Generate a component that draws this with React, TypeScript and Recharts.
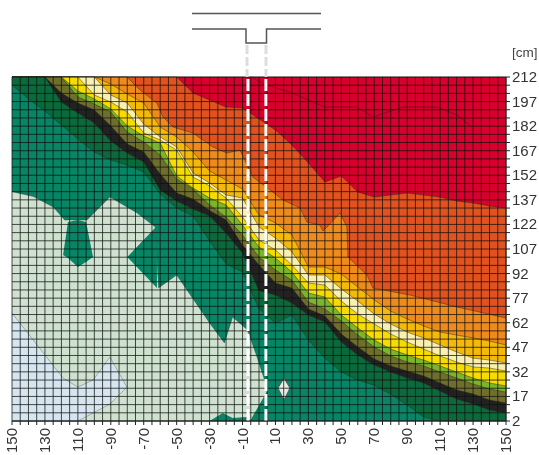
import React from 'react';
import { ComposedChart, Area, Line, XAxis, YAxis, ReferenceLine } from 'recharts';

// contour levels in cm, one value per position in positions
const positions = [-150, -140, -130, -120, -110, -100, -90, -80, -70, -60, -50, -40, -30, -20, -10, 0, 10, 20, 30, 40, 50, 60, 70, 80, 90, 100, 110, 120, 130, 140, 150];
const topRed = positions.map(() => 212);
const orangeRedTop = [212, 212, 212, 212, 212, 212, 212, 212, 212, 212, 212, 202.2, 198, 193.7, 193.1, 186.4, 179.6, 170.5, 159.5, 147.9, 151.6, 141.8, 138.7, 140, 141.2, 140, 138.7, 136.3, 135.1, 133.2, 132];
const goldTop = [212, 212, 212, 212, 212, 212, 207.7, 201.6, 196.1, 181.5, 175.4, 166.2, 154.6, 149.1, 143.6, 127.7, 122.9, 115.5, 96, 96, 91.7, 83.8, 75.9, 69.1, 64.3, 60, 56.3, 54.5, 52.7, 50.8, 48.4];
const paleTop = [212, 212, 212, 212, 212, 212, 201, 196.1, 183.3, 175.4, 169.3, 153.4, 147.3, 140, 138.1, 120.4, 113.7, 105.2, 91.1, 91.1, 82.6, 75.2, 67.3, 61.2, 56.3, 52.7, 48.4, 44.1, 40.4, 39.2, 37.4];
const yellowTop = [212, 212, 212, 212, 212, 201, 196.7, 190.6, 177.8, 173.5, 167.4, 150.9, 145.5, 138.1, 126.5, 112.5, 106.4, 97.2, 86.2, 85, 75.2, 67.3, 61.2, 55.1, 50.2, 45.9, 41.7, 38, 35, 34.3, 32.5];
const greenTop = [212, 212, 212, 212, 203.5, 198.6, 192.5, 182.1, 176, 171.7, 151.6, 144.2, 138.1, 133.9, 121.6, 108.2, 101.5, 92.9, 80.1, 77.7, 66.7, 58.8, 51.4, 45.9, 42.3, 39.2, 35.6, 31.9, 28.2, 25.2, 23.4];
const oliveTop = [212, 212, 212, 212, 199.8, 195.5, 190.6, 178.4, 172.3, 164.4, 149.7, 143.6, 133.9, 126.5, 115.5, 102.1, 94.2, 88, 74.6, 70.4, 63, 54.5, 47.2, 41.7, 38, 35.6, 31.9, 28.2, 24.6, 21.5, 19.7];
const blackTop = [212, 212, 212, 202.2, 196.1, 191.9, 182.1, 171.1, 166.2, 152.8, 141.2, 137.5, 130.5, 124.7, 109.4, 97.2, 86.2, 83.2, 70.4, 66.1, 55.1, 47.2, 39.8, 35.6, 32.5, 29.5, 25.2, 20.9, 18.5, 14.8, 13];
const darkGreenTop = [212, 212, 212, 196.7, 190, 183.9, 172.9, 165.6, 160.1, 143, 136.3, 131.4, 127.1, 116.8, 104.6, 81.5, 78.9, 74, 66.7, 62.4, 50.2, 42.3, 36.2, 31.9, 28.2, 25.2, 20.3, 15.4, 12.4, 8.7, 6.9];
const tealTop = [207.1, 198.6, 191.2, 182.7, 174.1, 166.2, 161.3, 158.2, 154, 140.6, 132, 127.1, 111.9, 97.8, 93, 70.4, 61.8, 66.7, 51.4, 40.4, 31.9, 27, 23.9, 18.4, 11.7, 4.4, 2, 2, 2, 2, 2];

// the orange edge has a near vertical step, so it keeps its own positions
const orangeX = [-150, -80.2, -72.3, -62, -58.3, -52.2, -40.1, -28, -19.5, -11.6, -3.7, 6.7, 14.6, 24.9, 29.1, 37, 38.8, 41.3, 49.2, 53.4, 54, 65.6, 69.2, 91.7, 120.2, 150];
const orangeTop = [212, 212, 204.1, 196.1, 187.6, 181.5, 177.8, 169.3, 165.6, 167.4, 150.9, 143, 136.9, 132, 123.5, 121.6, 118, 120.4, 129, 120.4, 102.1, 91.1, 83.2, 78.9, 71.6, 64.9];

// the separate regions in the lower left have their own positions
const paleGreenX = [-150, -137, -125, -118, -104.5, -90.5, -74, -63, -61, -50, -30, -21, -16, -7, -1, 5, 5.5];
const paleGreenTop = [142, 139, 132.6, 124.7, 124.7, 138.7, 129, 120.4, 83.2, 91.1, 61.8, 49.6, 65.5, 57.6, 40.4, 22, 2];

const paleBlueX = [-150, -130, -119, -110, -100.8, -90.5, -80.2];
const paleBlueLow = [2, 2, 2, 2, 6.9, 12.4, 22.7];
const paleBlueHigh = [67.9, 42.3, 28.2, 22.7, 27, 41, 22.7];

const notchX = [-119, -116, -110, -105, -100.8];
const notchLow = [103.3, 101.5, 96, 99, 102.1];
const notchHigh = [103.3, 123.5, 124.7, 123.5, 102.1];

const wedgeX = [-80, -62];
const wedgeLow = [102.1, 83.2];
const wedgeHigh = [102.1, 121];

const bottomX = [-30, -22, -16, -7.3, -5.5, 4.8, 5.5];
const bottomHigh = [2, 6.9, 3.8, 4.4, 2, 20, 2];

const diamondX = [11.5, 15.2, 18.8];
const diamondLow = [22.1, 14.8, 22.1];
const diamondHigh = [22.1, 28.2, 22.1];

const redLineX = [-5, 4.8, 18.8, 40, 59.5, 69.2, 87.4, 108, 120.2, 129.3];
const redLineY = [212, 207.1, 202.8, 193.7, 193.7, 187.6, 193.7, 193.7, 188.8, 181.5];

// the minus signs of the first three labels fall off the bottom of the picture
const xTicks = [-150, -130, -110, -90, -70, -50, -30, -10, 10, 30, 50, 70, 90, 110, 130, 150];
const xLabels = ['150', '130', '110', '-90', '-70', '-50', '-30', '-10', '10', '30', '50', '70', '90', '110', '130', '150'];
const yLabels = [2, 17, 32, 47, 62, 77, 92, 107, 122, 137, 152, 167, 182, 197, 212];
const xGrid = Array.from({ length: 61 }, (_, i) => -150 + i * 5);
const yGrid = Array.from({ length: 43 }, (_, i) => 2 + i * 5);
const channelWalls = [-6.7, 4.2];

const tealColor = '#078565';

const rows = positions.map((x, i) => ({
  x,
  red: topRed[i],
  orangeRed: orangeRedTop[i],
  gold: goldTop[i],
  pale: paleTop[i],
  yellow: yellowTop[i],
  green: greenTop[i],
  olive: oliveTop[i],
  black: blackTop[i],
  darkGreen: darkGreenTop[i],
  teal: tealTop[i],
}));

const orangeRows = orangeX.map((x, i) => ({ x, orange: orangeTop[i] }));

const bands: { key: string; fill: string; data?: any[] }[] = [
  { key: 'red', fill: '#d8002c' },
  { key: 'orangeRed', fill: '#e2521f' },
  { key: 'orange', fill: '#ef8a1c', data: orangeRows },
  { key: 'gold', fill: '#f5b90a' },
  { key: 'pale', fill: '#f8efb0' },
  { key: 'yellow', fill: '#f7dc00' },
  { key: 'green', fill: '#7bb52c' },
  { key: 'olive', fill: '#6f6f2c' },
  { key: 'black', fill: '#222222' },
  { key: 'darkGreen', fill: '#0a6a3c' },
  { key: 'teal', fill: tealColor },
];

const rangeRows = (xs: number[], low: number[], high: number[]) =>
  xs.map((x, i) => ({ x, range: [low[i], high[i]] }));

const XTick = ({ x, payload }: any) => {
  const i = xTicks.indexOf(payload.value);
  if (i < 0) return null;
  return (
    <text
      x={x + 5}
      y={428}
      transform={`rotate(-90 ${x + 5} 428)`}
      textAnchor="end"
      fontSize={15}
      fontFamily="Liberation Sans"
      fill="#333"
    >
      {xLabels[i]}
    </text>
  );
};

const YTick = ({ y, payload }: any) => {
  if (!yLabels.includes(payload.value)) return null;
  return (
    <text x={512} y={y + 5} fontSize={15} fontFamily="Liberation Sans" fill="#333">
      {payload.value}
    </text>
  );
};

const App: React.FC = () => {
  return (
    <div style={{ position: 'absolute', left: 0, top: 0, width: 539, height: 455, background: '#fff', filter: 'blur(0.4px)' }}>
      <ComposedChart width={539} height={455} data={rows} margin={{ top: 77, right: 0, bottom: 0, left: 12 }}>
        <XAxis
          dataKey="x"
          type="number"
          domain={[-150, 150]}
          ticks={xGrid}
          interval={0}
          height={34}
          tickSize={4}
          stroke="#222"
          tick={<XTick />}
        />
        <YAxis
          orientation="right"
          type="number"
          domain={[2, 212]}
          ticks={yGrid}
          interval={0}
          width={33}
          tickSize={4}
          stroke="#222"
          tick={<YTick />}
        />
        {bands.map((b) => (
          <Area
            key={b.key}
            data={b.data}
            dataKey={b.key}
            type="linear"
            fill={b.fill}
            fillOpacity={1}
            stroke="#2a2a14"
            strokeWidth={0.7}
            strokeOpacity={0.65}
            isAnimationActive={false}
          />
        ))}
        <Area data={paleGreenX.map((x, i) => ({ x, range: [2, paleGreenTop[i]] }))} dataKey="range" type="linear" fill="#cfe2d0" fillOpacity={1} stroke="#2a3a2a" strokeWidth={0.6} strokeOpacity={0.6} isAnimationActive={false} />
        <Area data={rangeRows(paleBlueX, paleBlueLow, paleBlueHigh)} dataKey="range" type="linear" fill="#d6e6f0" fillOpacity={1} stroke="#3a4a4a" strokeWidth={0.6} strokeOpacity={0.6} isAnimationActive={false} />
        <Area data={rangeRows(notchX, notchLow, notchHigh)} dataKey="range" type="linear" fill={tealColor} fillOpacity={1} stroke="none" isAnimationActive={false} />
        <Area data={rangeRows(wedgeX, wedgeLow, wedgeHigh)} dataKey="range" type="linear" fill={tealColor} fillOpacity={1} stroke="none" isAnimationActive={false} />
        <Area data={bottomX.map((x, i) => ({ x, range: [2, bottomHigh[i]] }))} dataKey="range" type="linear" fill={tealColor} fillOpacity={1} stroke="none" isAnimationActive={false} />
        <Area data={rangeRows(diamondX, diamondLow, diamondHigh)} dataKey="range" type="linear" fill="#e4ece4" fillOpacity={1} stroke="#555" strokeWidth={1} isAnimationActive={false} />
        <Line data={redLineX.map((x, i) => ({ x, y: redLineY[i] }))} dataKey="y" type="linear" stroke="#8a0020" strokeWidth={0.8} dot={false} isAnimationActive={false} />
        {yGrid.map((y) => (
          <ReferenceLine key={`h${y}`} y={y} stroke="#111" strokeOpacity={0.75} strokeWidth={1} />
        ))}
        {xGrid.map((x) => (
          <ReferenceLine key={`v${x}`} x={x} stroke="#111" strokeOpacity={0.75} strokeWidth={1} />
        ))}
        {channelWalls.map((x) => (
          <ReferenceLine key={x} x={x} stroke="#fff" strokeWidth={3} strokeDasharray="12 3" />
        ))}
      </ComposedChart>
      {/* channel sketch above the plot and the unit label */}
      <svg width={539} height={77} style={{ position: 'absolute', left: 0, top: 0 }}>
        <path d="M192 13.5H321M192 29H246V43H266.5V29H321" fill="none" stroke="#555" strokeWidth={1.5} />
        <path d="M247 45V77M266 45V77" fill="none" stroke="#ddd" strokeWidth={3} strokeDasharray="9 3" />
        <text x={512} y={57} fontSize={13.5} fontFamily="Liberation Sans" fill="#444">[cm]</text>
      </svg>
    </div>
  );
};

export default App;
